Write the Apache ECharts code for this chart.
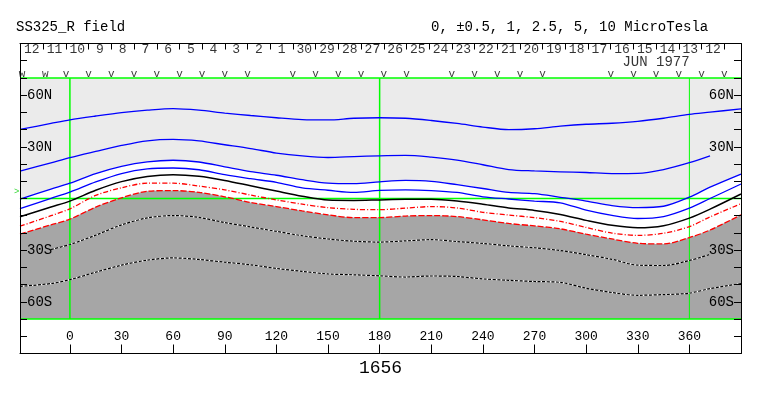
<!DOCTYPE html>
<html><head><meta charset="utf-8">
<script src="https://cdn.jsdelivr.net/npm/echarts@6/dist/echarts.min.js"></script>
<style>html,body{margin:0;padding:0;background:#fff}#c{width:763px;height:396px}</style>
</head><body><div id="c"></div>
<script>
// ---- data (longitude in degrees, latitude in degrees) ----
const lons = [-29,-11,0,15,30,45,60,75,90,105,120,135,150,165,180,195,210,225,240,255,270,285,300,315,330,345,360,372,390];
const blue1 = [40.1,43.6,45.7,47.9,49.9,51.3,52.2,51.3,49.6,48.2,46.9,45.8,45.6,46.6,46.9,46.6,45.3,43.6,41.5,40.0,40.5,42.0,43.1,43.7,44.8,46.6,48.8,50.1,52.1];
const blue2 = [15.9,20.7,23.7,27.3,30.8,33.5,34.3,33.4,31.2,29.0,26.4,24.7,23.8,24.3,24.8,25.0,24.0,22.3,19.6,16.8,16.0,15.5,15.1,14.5,14.6,16.8,20.8,24.8,null];
const blue3 = [-0.3,5.5,8.9,14.5,18.7,21.3,22.2,21.2,18.4,15.6,13.5,10.9,8.9,8.6,9.7,10.5,10.0,8.0,5.8,3.5,2.8,0.7,-1.5,-4.1,-5.3,-4.5,0.8,6.6,14.2];
const blue4 = [-5.9,0.1,3.7,9.6,14.5,17.2,17.7,16.7,13.8,11.5,9.4,6.2,4.8,3.5,4.7,5.0,4.6,3.5,1.0,-0.3,-1.5,-2.5,-6.8,-9.8,-11.6,-10.5,-5.6,0.0,8.4];
const neutral = [-10.6,-4.9,-1.5,4.8,9.8,12.8,13.8,12.9,10.5,7.4,4.3,1.3,-0.9,-1.1,-0.8,-0.5,-0.4,-1.4,-3.3,-5.5,-6.9,-9.3,-12.7,-15.6,-17.0,-15.8,-11.4,-6.2,2.6];
const red1 = [-16.1,-10.0,-6.0,1.8,6.2,8.9,8.9,7.2,5.0,2.0,-0.8,-3.3,-5.3,-6.3,-6.5,-5.6,-4.7,-5.5,-8.0,-9.6,-11.1,-13.3,-16.8,-20.1,-21.4,-20.2,-16.3,-10.7,-3.0];
const red2 = [-20.7,-15.3,-12.0,-5.0,0.4,4.2,4.6,3.6,1.0,-2.3,-4.7,-7.2,-9.5,-11.1,-11.1,-10.2,-9.9,-10.5,-12.4,-14.5,-15.9,-17.6,-20.7,-23.5,-26.0,-26.4,-22.7,-18.3,-9.5];
const dot1 = [null,-29.6,-26.7,-21.3,-15.3,-11.3,-9.9,-11.0,-14.0,-16.5,-19.1,-21.6,-23.5,-24.8,-25.3,-24.6,-23.9,-25.0,-26.1,-27.5,-28.6,-30.2,-32.6,-35.3,-38.7,-38.9,-36.0,-32.5,null];
const dot2 = [-51.0,-49.4,-47.1,-42.8,-38.7,-35.8,-34.5,-35.4,-37.0,-38.5,-40.6,-42.3,-43.8,-44.3,-44.9,-45.6,-45.0,-45.3,-46.7,-47.5,-48.2,-48.7,-52.1,-54.6,-56.2,-55.8,-55.0,-52.3,-49.4];

const lonTicks = [0,30,60,90,120,150,180,210,240,270,300,330,360];
const latLabels = [60,30,-30,-60];
const meridians = [0,180,360];
const parallels = [70,0,-70];
const mapTop = 70, mapBottom = -70;

const daySepLons = [-15.5,-2.3,10.9,24.1,37.3,50.5,63.7,76.8,90.0,103.2,116.4,129.6,142.8,156.0,169.2,182.4,195.6,208.8,222.0,235.2,248.4,261.6,274.7,287.9,301.1,314.3,327.5,340.7,353.9,367.1,380.3];
const dayLabelLons = [-22.1,-8.9,4.3,17.5,30.7,43.9,57.1,70.3,83.4,96.6,109.8,123.0,136.2,149.4,162.6,175.8,189.0,202.2,215.4,228.6,241.8,255.0,268.1,281.3,294.5,307.7,320.9,334.1,347.3,360.5,373.7];
const dayLabels = ['12','11','10','9','8','7','6','5','4','3','2','1','30','29','28','27','26','25','24','23','22','21','20','19','18','17','16','15','14','13','12'];
const obsLons = [-27.8,-14.3,-2.3,10.9,24.1,37.3,50.5,63.7,76.8,90.0,103.2,129.6,142.8,156.0,169.2,182.4,195.6,222.0,235.2,248.4,261.6,274.7,314.3,327.5,340.7,353.9,367.1,380.3];
const obsMarks = ['w','w','v','v','v','v','v','v','v','v','v','v','v','v','v','v','v','v','v','v','v','v','v','v','v','v','v','v'];
const monthLabel = {lon: 340.6, text: 'JUN 1977'};
const earthLat = 4.1;

// ---- helpers ----
const MONO = 'Liberation Mono, DejaVu Sans Mono, monospace';
const pts = arr => lons.map((x,i)=>[x, arr[i]]).filter(p => p[1] !== null);
const SM = 0.3;
function contour(arr, color, width, type, z){
  return {type:'line', data:pts(arr), smooth:SM, symbol:'none', z:z||4, silent:true,
    lineStyle:{color:color, width:width, type:type||'solid'}};
}
// filled region from the bottom of the y axis up to the given boundary; later layers paint over earlier ones
function fillBelow(arr, color){
  return {type:'line', data:pts(arr), smooth:SM, symbol:'none', z:2, silent:true,
    lineStyle:{width:0, opacity:0}, areaStyle:{color:color, opacity:1, origin:'start'}};
}
const series = [
  fillBelow(lons.map(()=>mapTop), '#ebebeb'),
  fillBelow(blue3, '#ffffff'),
  fillBelow(red2, '#a6a6a6'),
  fillBelow(lons.map(()=>mapBottom), '#ffffff'),
];
meridians.forEach(m => series.push({type:'line', data:[[m,mapBottom],[m,mapTop]], symbol:'none', z:3, silent:true,
  lineStyle:{color:'#00ff00', width: m===360 ? 1 : 1.5}}));
parallels.forEach(p => series.push({type:'line', data:[[-29,p],[390,p]], symbol:'none', z:3, silent:true,
  lineStyle:{color:'#00ff00', width:1.5}}));
series.push(
  contour(blue1,'#0000ff',1.3),
  contour(blue2,'#0000ff',1.3),
  contour(blue3,'#0000ff',1.3),
  contour(blue4,'#0000ff',1.3),
  contour(neutral,'#000000',1.5),
  contour(red1,'#ff0000',1.3,[5,2,1,2]),
  contour(red2,'#ff0000',1.3,[6,2]),
  contour(dot1,'#ffffff',1.2),
  contour(dot1,'#000000',1.2,[3,1.5],5),
  contour(dot2,'#ffffff',1.2),
  contour(dot2,'#000000',1.2,[3,1.5],5)
);
function textScatter(items, size, color){
  return {type:'scatter', data:items, symbolSize:1, itemStyle:{color:'rgba(0,0,0,0)'}, z:6, silent:true, clip:false,
    label:{show:true, position:'inside', formatter:'{b}', color:color||'#000', fontFamily:MONO, fontSize:size}};
}
series.push(
  textScatter(dayLabelLons.map((x,i)=>({value:[x,86.4], name:dayLabels[i]})), 13),
  textScatter(obsLons.map((x,i)=>({value:[x,72.3], name:obsMarks[i]})), 11),
  textScatter([{value:[monthLabel.lon,78.9], name:monthLabel.text}], 14),
  textScatter([{value:[-30.9,earthLat], name:'>'}], 9, '#00cc00')
);

const yBase = {type:'value', min:-90, max:90, interval:10, z:8,
  axisLine:{show:true, onZero:false, lineStyle:{color:'#000', width:1}},
  axisTick:{show:true, inside:true, length:7, lineStyle:{color:'#000'}},
  splitLine:{show:false},
  axisLabel:{inside:true, margin:7, customValues:latLabels, color:'#000', fontFamily:MONO, fontSize:14,
    formatter: v => v > 0 ? v + 'N' : (-v) + 'S'}};

const option = {
  animation:false,
  title:[
    {text:'SS325_R field', left:16, top:20, padding:0, textStyle:{fontFamily:MONO, fontSize:14, fontWeight:'normal', color:'#000'}},
    {text:'0, \u00b10.5, 1, 2.5, 5, 10 MicroTesla', left:431, top:20, padding:0, textStyle:{fontFamily:MONO, fontSize:14, fontWeight:'normal', color:'#000'}}
  ],
  grid:{left:20, right:22, top:43.5, bottom:42.5, outerBoundsMode:'none', containLabel:false},
  xAxis:[
    {type:'value', min:-29, max:390, position:'bottom', z:8,
      axisLine:{show:true, onZero:false, lineStyle:{color:'#000', width:1}},
      axisTick:{show:true, inside:true, length:9, customValues:lonTicks, lineStyle:{color:'#000'}},
      axisLabel:{inside:true, margin:10, customValues:lonTicks, color:'#000', fontFamily:MONO, fontSize:13},
      splitLine:{show:false},
      name:'1656', nameLocation:'middle', nameGap:4,
      nameTextStyle:{fontFamily:MONO, fontSize:18, color:'#000'}},
    {type:'value', min:-29, max:390, position:'top', z:8,
      axisLine:{show:true, onZero:false, lineStyle:{color:'#000', width:1}},
      axisTick:{show:true, inside:true, length:6, customValues:daySepLons, lineStyle:{color:'#000'}},
      axisLabel:{show:false}, splitLine:{show:false}}
  ],
  yAxis:[
    Object.assign({}, yBase, {position:'left'}),
    Object.assign({}, yBase, {position:'right'})
  ],
  series: series
};
echarts.init(document.getElementById('c'), null, {renderer:'canvas'}).setOption(option);
</script></body></html>
